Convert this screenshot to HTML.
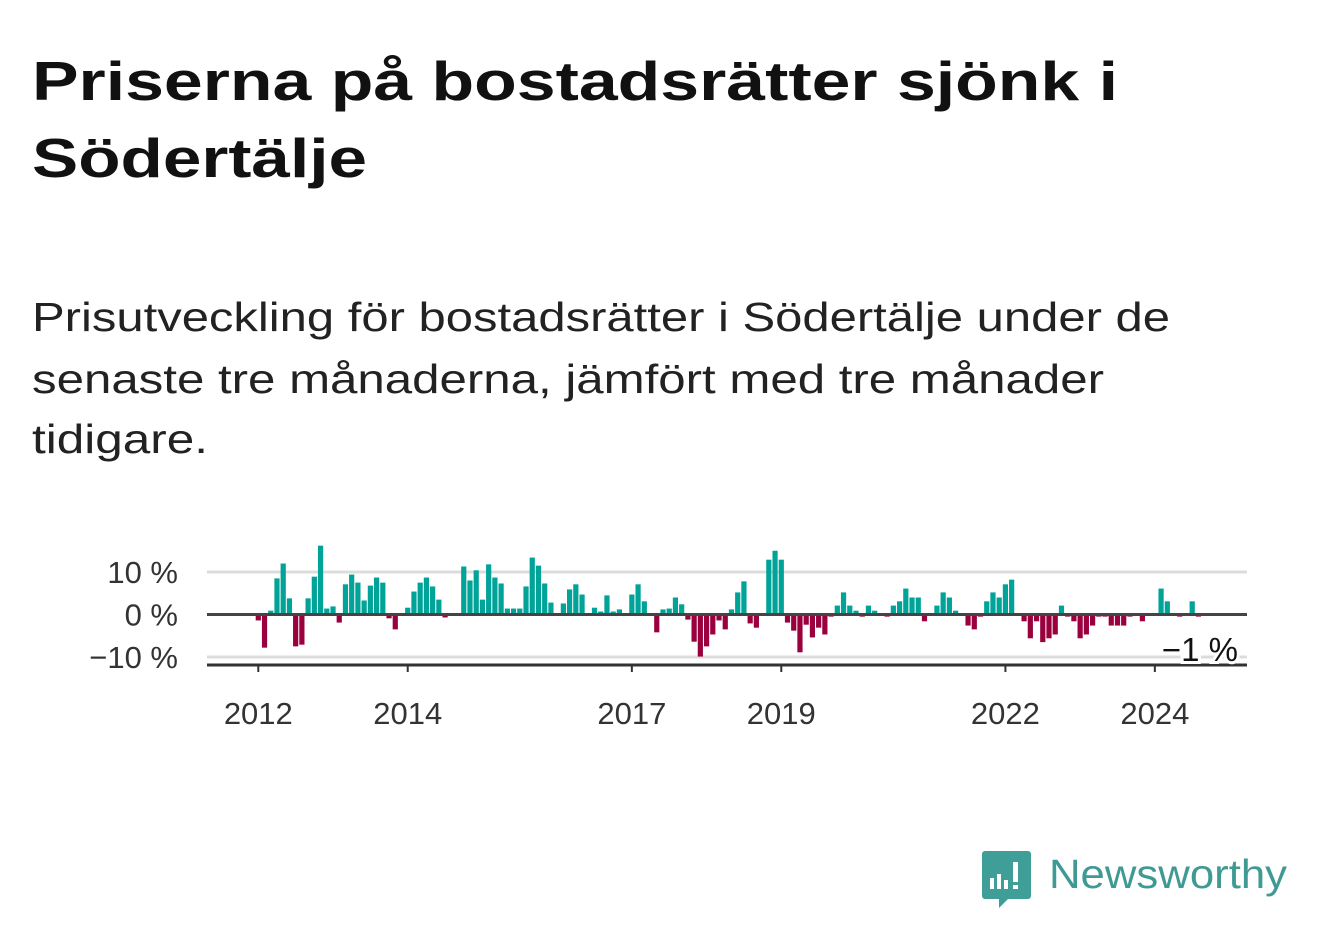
<!DOCTYPE html>
<html><head><meta charset="utf-8">
<style>
html,body{margin:0;padding:0;background:#fff;}
svg{display:block;font-family:"Liberation Sans",sans-serif;}
</style></head>
<body>
<svg id="page" width="1322" height="939" viewBox="0 0 1322 939">
  <text x="32" y="100" font-size="55" font-weight="bold" fill="#111" textLength="1086" lengthAdjust="spacingAndGlyphs">Priserna på bostadsrätter sjönk i</text>
  <text x="32" y="177" font-size="55" font-weight="bold" fill="#111" textLength="335" lengthAdjust="spacingAndGlyphs">Södertälje</text>
  <text x="32" y="331" font-size="41" fill="#222" textLength="1138" lengthAdjust="spacingAndGlyphs">Prisutveckling för bostadsrätter i Södertälje under de</text>
  <text x="32" y="393" font-size="41" fill="#222" textLength="1072" lengthAdjust="spacingAndGlyphs">senaste tre månaderna, jämfört med tre månader</text>
  <text x="32" y="453" font-size="41" fill="#222" textLength="176" lengthAdjust="spacingAndGlyphs">tidigare.</text>
  <g id="chart"></g>
  <g>
    <path d="M985 851 h43 a3 3 0 0 1 3 3 v42 a3 3 0 0 1 -3 3 h-20 l-9 9 v-9 h-14 a3 3 0 0 1 -3 -3 v-42 a3 3 0 0 1 3 -3z" fill="#3f9f98"/>
    <rect x="990" y="878" width="4" height="11" fill="#fff"/>
    <rect x="997" y="874" width="4" height="15" fill="#fff"/>
    <rect x="1004" y="880" width="4" height="9" fill="#fff"/>
    <rect x="1013" y="862" width="5" height="20" fill="#fff"/>
    <rect x="1013" y="885" width="5" height="4" fill="#fff"/>
    <text x="1049" y="888" font-size="41" fill="#3f9a93" textLength="238" lengthAdjust="spacingAndGlyphs">Newsworthy</text>
  </g>
</svg>
<script>
// Monthly change (%) starting Jan 2012
const values = [-1.4,-7.8,0.9,8.5,12,3.8,-7.5,-7.1,3.8,8.9,16.2,1.4,1.9,-1.9,7.1,9.4,7.5,3.3,6.8,8.7,7.5,-0.9,-3.5,0,
1.6,5.4,7.5,8.7,6.6,3.5,-0.7,0,0,11.3,8,10.4,3.5,11.8,8.7,7.3,1.4,1.4,1.4,6.6,13.4,11.5,7.3,2.8,
0,2.6,5.9,7.1,4.7,-0.2,1.6,0.7,4.5,0.7,1.2,0,4.7,7.1,3.1,0,-4.2,1.2,1.4,4,2.4,-1.2,-6.4,-9.9,
-7.5,-4.7,-1.4,-3.5,1.2,5.2,7.8,-2.1,-3.1,-0.3,12.9,15,12.9,-1.9,-3.8,-8.9,-2.4,-5.4,-3.1,-4.7,-0.5,2.1,
5.2,2.1,0.9,-0.5,2.1,0.9,0,-0.5,2.1,3.1,6.1,4,4,-1.6,0,2.1,5.2,4,0.9,0,-2.6,
-3.5,-0.5,3.1,5.2,4,7.1,8.2,0,-1.6,-5.6,-1.6,-6.5,-5.6,-4.7,2.1,-0.5,-1.6,-5.6,-4.7,-2.6,-0.5,-0.5,-2.6,-2.6,
-2.6,-0.5,0,-1.6,0,0,6.1,3.1,0,-0.5,0,3.1,-0.5];
const yTicks = [10, 0, -10];
const yTickLabels = ["10 %", "0 %", "\u221210 %"];
const xTickYears = [2012, 2014, 2017, 2019, 2022, 2024];
const lastLabel = "\u22121 %";

const NS = "http://www.w3.org/2000/svg";
const g = document.getElementById('chart');
const x0 = 258.3, monthW = 6.226, barW = 5.2;
const xScale = i => x0 + i * monthW;
const yScale = v => 614.5 - v * 4.25;
function mk(tag, attrs){ const e=document.createElementNS(NS,tag); for(const k in attrs) e.setAttribute(k,attrs[k]); g.appendChild(e); return e; }

yTicks.forEach((t,i)=>{
  if(t!==0){
    const l = mk('line',{x1:207,x2:1247,y1:yScale(t),y2:yScale(t),stroke:'#dcdcdc','stroke-width':3});
    
    
  }
  const tx = mk('text',{x:178,y:yScale(t)+11,'font-size':31,'text-anchor':'end',fill:'#333'});
  tx.textContent = yTickLabels[i];
  
  
});

values.forEach((v,i)=>{
  if(v===0) return;
  const y = v>0 ? yScale(v) : yScale(0);
  const r = mk('rect',{x:xScale(i)-barW/2,y:y,width:barW,height:Math.abs(yScale(v)-yScale(0)),fill:v>0?'#00a398':'#99003d'});
  
  
});

const zl = mk('line',{x1:207,x2:1247,y1:yScale(0),y2:yScale(0),stroke:'#444','stroke-width':3});



const ax = mk('line',{x1:207,x2:1247,y1:665,y2:665,stroke:'#333','stroke-width':3});



xTickYears.forEach(yr=>{
  const x = xScale((yr-2012)*12);
  const tk = mk('line',{x1:x,x2:x,y1:665,y2:672,stroke:'#333','stroke-width':2});
  
  
  const tx = mk('text',{x:x,y:724,'font-size':31,'text-anchor':'middle',fill:'#333'});
  tx.textContent = String(yr);
  
  
});

const ll = mk('text',{x:1238,y:661,'font-size':33,'text-anchor':'end',fill:'#111',stroke:'#fff','stroke-width':6,'paint-order':'stroke'});
ll.textContent = lastLabel;


</script>
</body></html>
